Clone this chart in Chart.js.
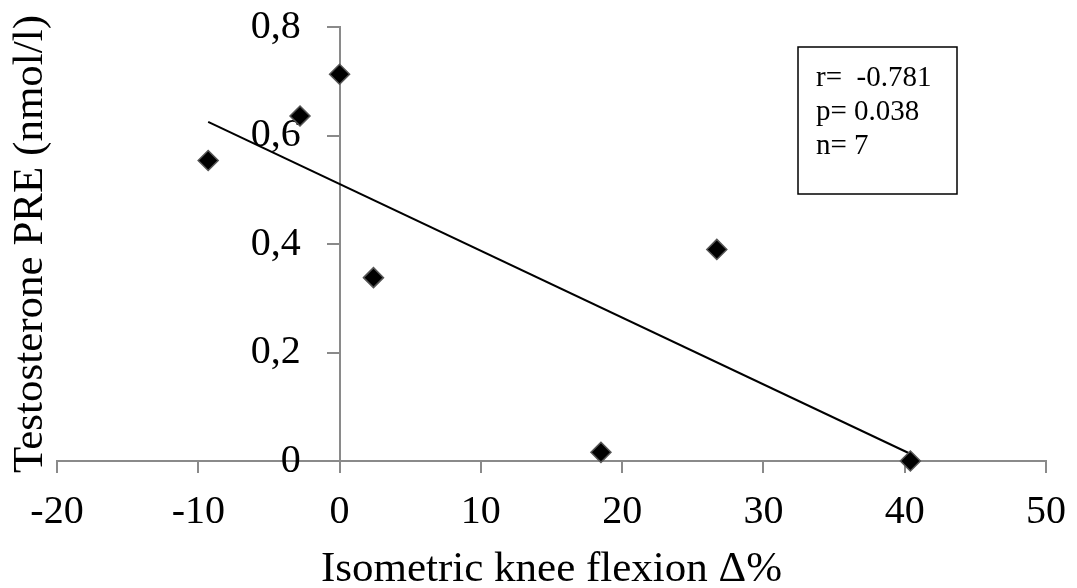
<!DOCTYPE html>
<html>
<head>
<meta charset="utf-8">
<script src="https://cdn.jsdelivr.net/npm/chart.js@4/dist/chart.umd.min.js"></script>
<style>
html,body{margin:0;padding:0;background:#fff;}
#wrap{width:1077px;height:588px;position:relative;}
</style>
</head>
<body>
<div id="wrap"><canvas id="c" width="1077" height="588"></canvas></div>
<script>
// Data
const kneeFlexionDelta = [-9.3, -2.8, 0, 2.4, 18.5, 26.7, 40.4];
const testosteronePre = [0.554, 0.636, 0.713, 0.338, 0.016, 0.39, 0.0];
const trendX = [-9.3, 40.5];
const trendY = [0.625, 0.012];
const xTicks = [-20, -10, 0, 10, 20, 30, 40, 50];
const yTicks = [0, 0.2, 0.4, 0.6, 0.8];
const statsLines = ['r=  -0.781', 'p= 0.038', 'n= 7'];
const xTitle = 'Isometric knee flexion \u0394%';
const yTitle = 'Testosterone PRE (nmol/l)';

const FONT = '"Liberation Serif", "Times New Roman", serif';
const AXIS_GRAY = '#8a8a8a';

const points = kneeFlexionDelta.map((x, i) => ({x: x, y: testosteronePre[i]}));
const trend = trendX.map((x, i) => ({x: x, y: trendY[i]}));

const statsBox = {
  id: 'statsBox',
  afterDraw(chart) {
    const ctx = chart.ctx;
    ctx.save();
    ctx.strokeStyle = '#000';
    ctx.lineWidth = 1.5;
    ctx.strokeRect(798, 47, 159, 147);
    ctx.fillStyle = '#000';
    ctx.font = '29px ' + FONT;
    ctx.textBaseline = 'alphabetic';
    ctx.textAlign = 'left';
    statsLines.forEach((t, i) => ctx.fillText(t, 816, 86 + i * 34));
    ctx.restore();
  }
};

const noPad = s => { s.paddingTop = 0; s.paddingBottom = 0; };

new Chart(document.getElementById('c'), {
  type: 'scatter',
  data: {
    datasets: [
      {
        label: 'data',
        data: points,
        pointStyle: 'rectRot',
        pointRadius: 10,
        pointHoverRadius: 10,
        backgroundColor: '#000',
        borderColor: '#555',
        borderWidth: 1.5,
        showLine: false,
        clip: false
      },
      {
        label: 'trend',
        data: trend,
        showLine: true,
        pointRadius: 0,
        borderColor: '#000',
        borderWidth: 2,
        fill: false,
        clip: false
      }
    ]
  },
  options: {
    responsive: false,
    animation: false,
    events: [],
    layout: {padding: {left: 0, right: 31, top: 27, bottom: 0}},
    plugins: {legend: {display: false}, tooltip: {enabled: false}},
    scales: {
      x: {
        type: 'linear',
        position: 'bottom',
        min: -20, max: 50,
        afterBuildTicks: s => { s.ticks = xTicks.map(v => ({value: v})); },
        afterFit: s => { s.height = 127; s.paddingLeft = 0; s.paddingRight = 0; },
        ticks: {
          color: '#000',
          font: {family: FONT, size: 40},
          padding: 15,
          maxRotation: 0,
          callback: v => String(v)
        },
        grid: {display: true, drawOnChartArea: false, drawTicks: true, tickLength: 12, color: AXIS_GRAY, lineWidth: 2},
        border: {display: true, color: AXIS_GRAY, width: 2},
        title: {display: true, text: xTitle, color: '#000', font: {family: FONT, size: 43}, padding: {top: 0, bottom: -8}}
      },
      y: {
        type: 'linear',
        position: {x: 0},
        min: 0, max: 0.8,
        afterBuildTicks: s => { s.ticks = yTicks.map(v => ({value: v})); },
        afterFit: noPad,
        ticks: {display: false},
        grid: {display: true, drawOnChartArea: false, drawTicks: true, tickLength: 12, color: AXIS_GRAY, lineWidth: 2},
        border: {display: true, color: AXIS_GRAY, width: 2}
      },
      yLabels: {
        type: 'linear',
        position: {x: -2.75},
        min: 0, max: 0.8,
        afterBuildTicks: s => { s.ticks = yTicks.map(v => ({value: v})); },
        afterFit: noPad,
        ticks: {
          color: '#000',
          font: {family: FONT, size: 40},
          padding: 0,
          callback: v => v === 0 ? '0' : v.toFixed(1).replace('.', ',')
        },
        grid: {display: false},
        border: {display: false}
      },
      yTitleAxis: {
        type: 'linear',
        position: 'left',
        min: 0, max: 1,
        afterFit: s => { s.width = 57; s.paddingTop = 0; s.paddingBottom = 0; },
        ticks: {display: false},
        grid: {display: false},
        border: {display: false},
        title: {display: true, text: yTitle, color: '#000', font: {family: FONT, size: 43}, padding: {top: 5, bottom: 0}}
      }
    }
  },
  plugins: [statsBox]
});
</script>
</body>
</html>
